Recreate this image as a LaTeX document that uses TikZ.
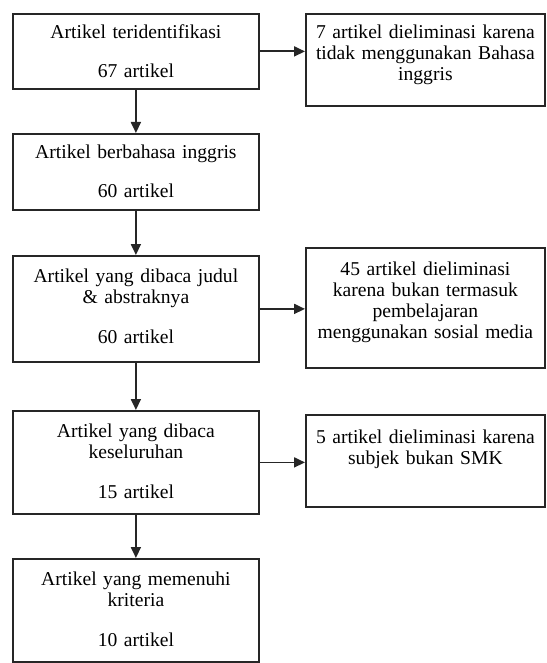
\documentclass[tikz,border=0pt]{standalone}
\usepackage{fontspec}
\setmainfont{Liberation Serif}
\usetikzlibrary{arrows.meta,positioning,calc}
\tikzset{
  boxL/.style={draw=black!85, line width=1.8pt, rectangle, inner sep=0pt, minimum width=246pt, anchor=north west},
  boxR/.style={draw=black!85, line width=1.8pt, rectangle, inner sep=0pt, minimum width=239pt, anchor=north west},
  txt/.style={inner sep=0pt, align=center, text width=235pt, anchor=base, font=\fontsize{19.6}{21}\selectfont},
  arr/.style={draw=black!85, line width=1.8pt, -{Triangle[length=11pt,width=10pt]}}
}
\begin{document}
\begin{tikzpicture}[x=1pt,y=-1pt]
\useasboundingbox (0,0) rectangle (546,663);
% left boxes
\node[boxL, minimum height=75pt] (b1) at (12,13) {};
\node[boxL, minimum height=76pt] (b2) at (12,133) {};
\node[boxL, minimum height=106pt] (b3) at (12,255) {};
\node[boxL, minimum height=103pt] (b4) at (12,410) {};
\node[boxL, minimum height=103pt] (b5) at (12,558) {};
% right boxes
\node[boxR, minimum height=92pt] (r1) at (305,13) {};
\node[boxR, minimum height=120pt] (r2) at (305,247) {};
\node[boxR, minimum height=92pt] (r3) at (305,414) {};
% texts
\node[txt, yshift=-26pt] (t1) at (b1.north) {Artikel teridentifikasi\\[18pt]67 artikel};
\node[txt, yshift=-26pt] (t2) at (b2.north) {Artikel berbahasa inggris\\[18pt]60 artikel};
\node[txt, yshift=-27pt] (t3) at (b3.north) {Artikel yang dibaca judul\\\& abstraknya\\[19pt]60 artikel};
\node[txt, yshift=-27pt] (t4) at (b4.north) {Artikel yang dibaca\\keseluruhan\\[19pt]15 artikel};
\node[txt, yshift=-27pt] (t5) at (b5.north) {Artikel yang memenuhi\\kriteria\\[19pt]10 artikel};
\node[txt, yshift=-26pt] (u1) at (r1.north) {7 artikel dieliminasi karena\\tidak menggunakan Bahasa\\inggris};
\node[txt, yshift=-28pt] (u2) at (r2.north) {45 artikel dieliminasi\\karena bukan termasuk\\pembelajaran\\menggunakan sosial media};
\node[txt, yshift=-29pt] (u3) at (r3.north) {5 artikel dieliminasi karena\\subjek bukan SMK};
% vertical connectors
\draw[arr] (b1.south) -- (b2.north);
\draw[arr] (b2.south) -- (b3.north);
\draw[arr] (b3.south) -- (b4.north);
\draw[arr] (b4.south) -- (b5.north);
% horizontal connectors
\draw[arr] (b1.east) -- (b1.east -| r1.west);
\draw[arr] (b3.east) -- (b3.east -| r2.west);
\draw[arr] (b4.east) -- (b4.east -| r3.west);
\end{tikzpicture}
\end{document}
